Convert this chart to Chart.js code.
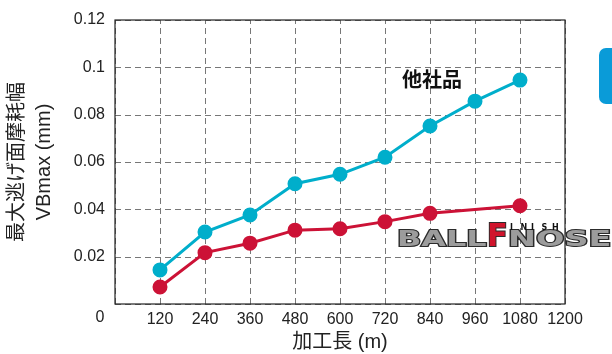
<!DOCTYPE html>
<html>
<head>
<meta charset="utf-8">
<script src="https://cdn.jsdelivr.net/npm/chart.js@4/dist/chart.umd.min.js"></script>
<style>
  html, body { margin: 0; padding: 0; background: #fff; }
  #wrap { width: 612px; height: 354px; }
</style>
</head>
<body>
<div id="wrap"><canvas id="chart" width="612" height="354"></canvas></div>
<script>
// cutting length (m)
var lengths = [120, 240, 360, 480, 600, 720, 840, 960, 1080];
// other maker (cyan)
var otherWear = [0.0144, 0.0304, 0.0376, 0.0508, 0.0548, 0.0620, 0.0752, 0.0857, 0.0946];
// BALL F NOSE (red), no point at 960
var ballWear = [0.0072, 0.0217, 0.0257, 0.0312, 0.0318, 0.0348, 0.0383, null, 0.0415];

var otherLabel = "他社品";
var xTitle = "加工長 (m)";
var yTitle = ["最大逃げ面摩耗幅", "VBmax (mm)"];

var fontFamily = '"Liberation Sans", Arial, "Noto Sans CJK JP", sans-serif';

function toPoints(values) {
    return lengths.map(function (x, i) {
        return { x: x, y: values[i] };
    });
}

// dashed grid + box, "0" label, series label, logo
var extras = {
    id: "extras",
    beforeDatasetsDraw: function (chart) {
        var ctx = chart.ctx;
        var a = chart.chartArea;
        var xs = chart.scales.x;
        var ys = chart.scales.y;
        ctx.save();
        ctx.strokeStyle = "#777";
        ctx.lineWidth = 1;
        ctx.setLineDash([6, 4]);
        xs.ticks.forEach(function (t) {
            var px = Math.round(xs.getPixelForValue(t.value)) + 0.5;
            ctx.beginPath();
            ctx.moveTo(px, a.bottom);
            ctx.lineTo(px, a.top);
            ctx.stroke();
        });
        ys.ticks.forEach(function (t) {
            var py = Math.round(ys.getPixelForValue(t.value)) + 0.5;
            ctx.beginPath();
            ctx.moveTo(a.left, py);
            ctx.lineTo(a.right, py);
            ctx.stroke();
        });
        ctx.setLineDash([]);
        ctx.strokeStyle = "#222";
        ctx.lineWidth = 1.2;
        ctx.strokeRect(a.left, a.top, a.right - a.left, a.bottom - a.top);
        ctx.restore();
    },
    afterDraw: function (chart) {
        var ctx = chart.ctx;
        var xs = chart.scales.x;
        var ys = chart.scales.y;
        ctx.save();

        // the lone "0" under the corner
        ctx.fillStyle = "#222";
        ctx.font = "16px " + fontFamily;
        ctx.textAlign = "center";
        ctx.textBaseline = "middle";
        ctx.fillText("0", xs.left - 15, 318);

        // series label
        ctx.font = "bold 20px " + fontFamily;
        ctx.fillStyle = "#111";
        ctx.fillText(otherLabel, xs.getPixelForValue(845), ys.getPixelForValue(0.0942));

        // logo
        ctx.textAlign = "left";
        ctx.textBaseline = "alphabetic";
        function wide(text, x, y, size, sx, fill) {
            ctx.save();
            ctx.translate(x, y);
            ctx.scale(sx, 1);
            ctx.font = "bold " + size + "px 'DejaVu Sans'";
            ctx.lineWidth = 2;
            ctx.strokeStyle = "#2b2b2b";
            ctx.strokeText(text, 0, 0);
            ctx.fillStyle = fill;
            ctx.fillText(text, 0, 0);
            ctx.restore();
        }
        wide("BALL", 397, 246, 22, 1.45, "#9c9c9c");
        wide("F", 487, 246, 32, 0.95, "#d0142c");
        wide("NOSE", 508, 246, 22, 1.52, "#9c9c9c");
        ctx.fillStyle = "#111";
        ctx.font = "bold 8px 'DejaVu Sans'";
        var small = "INISH";
        for (var i = 0; i < small.length; i++) {
            ctx.fillText(small[i], 510 + i * 10.5, 230);
        }

        // blue tab at the right edge
        ctx.fillStyle = "#0a9bd8";
        ctx.beginPath();
        ctx.roundRect(599, 48, 24, 56, 7);
        ctx.fill();
        ctx.restore();
    }
};

new Chart(document.getElementById("chart").getContext("2d"), {
    type: "line",
    data: {
        datasets: [
            {
                label: otherLabel,
                data: toPoints(otherWear),
                borderColor: "#00aecb",
                backgroundColor: "#00aecb",
                borderWidth: 3,
                pointRadius: 6,
                pointHoverRadius: 6,
                fill: false
            },
            {
                label: "BALL F NOSE",
                data: toPoints(ballWear),
                borderColor: "#cc1236",
                backgroundColor: "#cc1236",
                borderWidth: 3,
                pointRadius: 6,
                pointHoverRadius: 6,
                spanGaps: true,
                fill: false
            }
        ]
    },
    options: {
        responsive: false,
        animation: false,
        layout: { padding: { top: 20, right: 47, left: 0, bottom: 0 } },
        plugins: {
            legend: { display: false },
            tooltip: { enabled: false }
        },
        scales: {
            x: {
                type: "linear",
                min: 0,
                max: 1200,
                ticks: {
                    stepSize: 120,
                    color: "#222",
                    padding: 6,
                    maxRotation: 0,
                    font: { family: fontFamily, size: 16 },
                    callback: function (v) {
                        return v === 0 ? "" : String(v);
                    }
                },
                grid: { display: false, drawTicks: false },
                border: { display: false },
                title: {
                    display: true,
                    text: xTitle,
                    color: "#222",
                    font: { family: fontFamily, size: 20 },
                    padding: { top: 5, bottom: 0 }
                },
                afterFit: function (scale) {
                    scale.height = 50;
                }
            },
            y: {
                min: 0,
                max: 0.12,
                ticks: {
                    stepSize: 0.02,
                    color: "#222",
                    padding: 10,
                    font: { family: fontFamily, size: 16 },
                    callback: function (v) {
                        return v === 0 ? "" : String(Number(v.toFixed(2)));
                    }
                },
                grid: { display: false, drawTicks: false },
                border: { display: false },
                title: {
                    display: true,
                    text: yTitle,
                    color: "#222",
                    font: { family: fontFamily, size: 20, lineHeight: 1.35 },
                    padding: { top: 4, bottom: 0 }
                },
                afterFit: function (scale) {
                    scale.width = 115;
                }
            }
        }
    },
    plugins: [extras]
});
</script>
</body>
</html>
